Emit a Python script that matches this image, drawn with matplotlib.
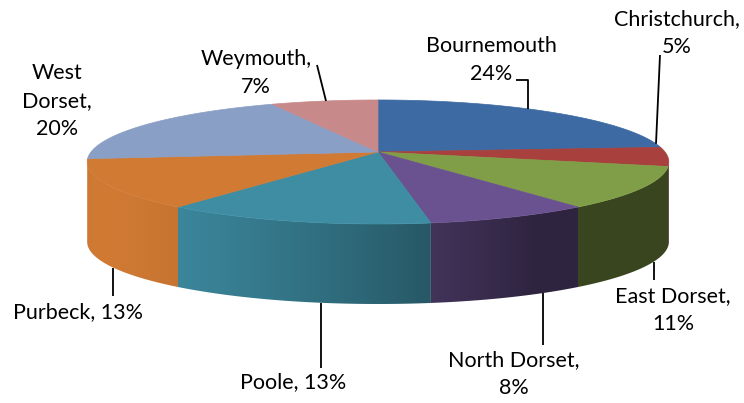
"""
3D pie: share of population by district (Excel style)
"""
import numpy as np
import matplotlib
matplotlib.use('Agg')
import matplotlib.pyplot as plt
from matplotlib.collections import PolyCollection
from matplotlib.patches import Polygon
from matplotlib.colors import to_rgb

# data
categories = ['Bournemouth', 'Christchurch', 'East Dorset', 'North Dorset',
              'Poole', 'Purbeck', 'West Dorset', 'Weymouth']
shares = [24, 5, 11, 8, 13, 13, 20, 7]
label_fmt = ['{n}\n{p}%', '{n},\n{p}%', '{n},\n{p}%', '{n},\n{p}%',
             '{n}, {p}%', '{n}, {p}%', 'West\nDorset,\n{p}%', '{n},\n{p}%']

# styles / layout (pixels, y down)
colors = ['#3D6AA2', '#A8403D', '#809E48', '#6A5290',
          '#3E8DA3', '#D07A34', '#8A9FC6', '#C8898A']
label_pos = [(491, 60), (677, 33), (673, 310), (514, 374),
             (293, 382), (78, 312), (57, 101), (256, 73)]
# leader: points from the label side, last x meets the pie ('top' rim or 'wall' bottom)
leaders = [([(516, 80), (528, 80)], 528, 'top'),
           ([(660, 55)], 656, 'top'),
           ([(654, 280)], 654, 'wall'),
           ([(543, 345)], 543, 'wall'),
           ([(321, 368)], 321, 'wall'),
           ([(113, 296)], 113, 'wall'),
           None,
           ([(317, 65)], 326, 'top')]

W, H = 744, 403
CX, CY = 378, 152           # apex of the pie
F, G, C = 287, 60.4, 0.161  # perspective projection of the unit circle
DEPTH = 80


def proj(phi):
    X, Z = np.cos(phi), np.sin(phi)
    w = 1 + C * Z
    return CX + F * X / w, CY - G * Z / w


def shade(phi):
    # light from front-left
    return 0.44 + 0.56 * np.maximum(0.0, np.cos(phi - np.radians(-152)))


fig = plt.figure(figsize=(W / 100, H / 100), dpi=100)
ax = fig.add_axes([0, 0, 1, 1])
ax.axis('off')

vals = np.array(shares, dtype=float)
bounds = np.pi / 2 - 2 * np.pi * np.concatenate([[0], np.cumsum(vals) / vals.sum()])
s = np.arcsin(C)

# near rim, x increasing, used for wall shading and leaders
ph_bot = np.linspace(-np.pi + s, -s, 2000)
xb, yb = proj(ph_bot)
# far rim, x decreasing
ph_top = np.linspace(-s, np.pi + s, 2000)
xt, yt = proj(ph_top)

# side walls (front half only) with a horizontal gradient
for i, col in enumerate(colors):
    a0, a1 = bounds[i], bounds[i + 1]
    lo, hi = max(a1, -np.pi + s), min(a0, -s)
    if lo >= hi:
        continue
    ph = np.linspace(lo, hi, 200)
    x, y = proj(ph)
    poly = list(zip(x, y)) + list(zip(x[::-1], y[::-1] + DEPTH))
    patch = Polygon(poly, closed=True, facecolor='none', edgecolor='none',
                    transform=ax.transData)
    ax.add_patch(patch)
    gx = np.linspace(x.min(), x.max(), 300)
    gphi = np.interp(gx, xb, ph_bot)
    img = np.clip(np.array(to_rgb(col))[None, None, :] * shade(gphi)[None, :, None], 0, 1)
    im = ax.imshow(img, extent=[x.min() - 0.5, x.max() + 0.5, y.max() + DEPTH + 1, y.min() - 1],
                   aspect='auto', interpolation='bilinear', zorder=1)
    im.set_clip_path(patch)

# top faces
tops = []
for i in range(len(vals)):
    ph = np.linspace(bounds[i], bounds[i + 1], 200)
    x, y = proj(ph)
    tops.append([(CX, CY)] + list(zip(x, y)))
ax.add_collection(PolyCollection(tops, facecolors=colors, edgecolors=colors,
                                 linewidths=0.5, zorder=2))

for lead in leaders:
    if lead is None:
        continue
    pts, xe, where = lead
    if where == 'top':
        ye = np.interp(xe, xt[::-1], yt[::-1])
    else:
        ye = np.interp(xe, xb, yb) + DEPTH
    xs = [p[0] for p in pts] + [xe]
    ys = [p[1] for p in pts] + [ye]
    ax.plot(xs, ys, color='black', lw=1.3, solid_capstyle='butt', zorder=3)

for name, p, fmt, (lx, ly) in zip(categories, shares, label_fmt, label_pos):
    ax.text(lx, ly, fmt.format(n=name, p=p), ha='center', va='center',
            fontsize=15.5, family=['Lato', 'DejaVu Sans'], linespacing=1.5,
            color='black', zorder=4)

ax.set_xlim(0, W)
ax.set_ylim(H, 0)

fig.savefig('out.png', dpi=100, facecolor='white')
plt.close(fig)
